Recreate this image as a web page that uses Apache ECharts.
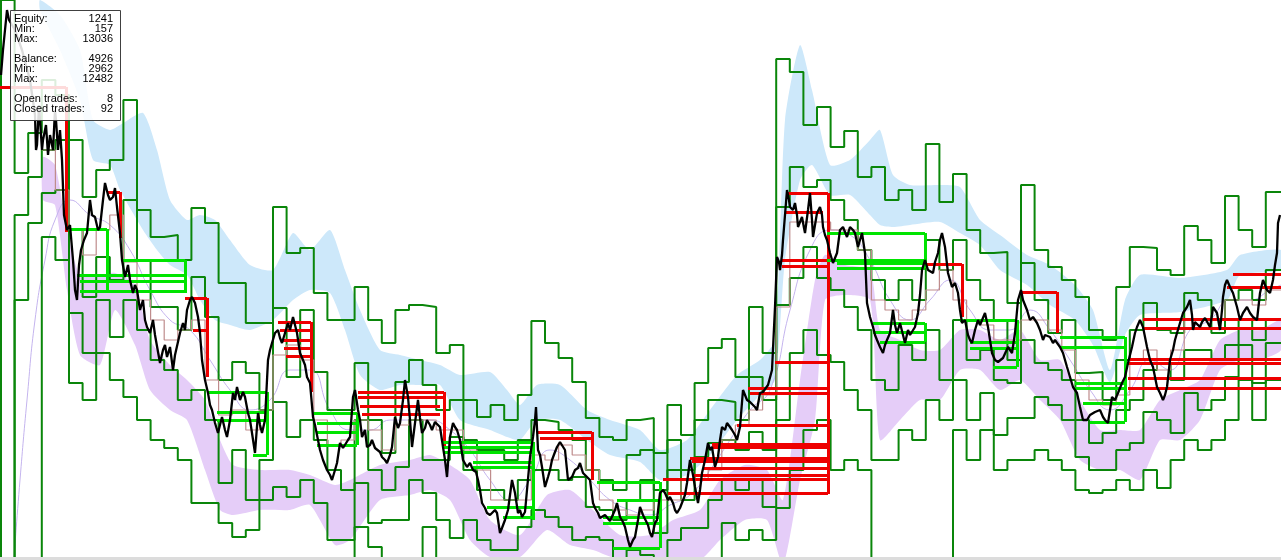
<!DOCTYPE html>
<html><head><meta charset="utf-8">
<script src="https://cdn.jsdelivr.net/npm/echarts@6/dist/echarts.min.js"></script>
<style>html,body{margin:0;padding:0;background:#fff}#c{width:1281px;height:560px}</style>
</head><body><div id="c"></div>
<script>
// ---------- DATA (levels; y grows downward on screen) ----------
const price = [[1,75],[3,50],[5,30],[7,10],[9,20],[15,30],[22,50],[30,80],[35,115],[36,150],[37,145],[39,105],[40,120],[42,150],[43,140],[46,125],[48,155],[50,135],[53,150],[55,110],[56,120],[58,150],[60,130],[62,160],[64,215],[67,230],[70,225],[73,260],[75,290],[77,300],[79,265],[81,250],[84,240],[87,233],[90,200],[92,215],[95,217],[98,230],[100,227],[103,200],[105,183],[108,195],[110,200],[113,197],[115,188],[117,207],[120,233],[122,260],[125,277],[128,265],[130,280],[133,293],[135,285],[137,290],[140,310],[143,300],[145,320],[147,327],[150,333],[153,320],[155,335],[157,333],[160,363],[163,350],[165,345],[167,357],[170,347],[173,370],[175,355],[177,353],[180,333],[183,323],[185,330],[187,310],[190,300],[192,297],[195,303],[198,317],[200,333],[202,360],[205,380],[208,393],[210,405],[212,410],[215,423],[218,433],[220,425],[222,417],[225,430],[227,437],[230,420],[233,393],[235,400],[237,387],[240,400],[243,392],[245,397],[248,413],[250,420],[252,433],[255,453],[258,413],[260,425],[262,433],[265,420],[268,360],[270,350],[272,343],[275,333],[278,330],[280,338],[282,343],[285,333],[288,323],[290,330],[293,317],[295,325],[297,333],[300,353],[303,360],[305,365],[307,377],[310,383],[313,417],[315,425],[318,440],[320,450],[323,460],[325,465],[327,470],[330,475],[332,480],[335,470],[337,463],[340,443],[343,448],[345,450],[348,440],[350,437],[353,397],[355,390],[358,410],[360,420],[362,437],[365,430],[367,447],[370,445],[372,440],[375,448],[377,450],[380,452],[382,457],[385,460],[387,463],[390,455],[392,447],[395,417],[398,428],[400,423],[403,400],[405,380],[408,397],[410,420],[412,447],[415,423],[418,400],[420,418],[422,433],[425,428],[427,420],[430,425],[432,430],[435,422],[437,420],[440,427],[443,447],[445,460],[447,477],[450,437],[453,423],[455,427],[457,430],[460,440],[463,460],[465,462],[467,467],[470,463],[473,470],[476,472],[478,480],[480,490],[482,503],[485,508],[487,513],[490,515],[492,517],[495,510],[497,513],[500,533],[502,528],[505,520],[508,510],[510,495],[512,480],[515,493],[518,513],[520,510],[522,517],[525,512],[527,510],[530,457],[533,437],[535,420],[536,407],[538,450],[540,455],[542,467],[545,487],[548,477],[550,470],[552,460],[555,452],[557,447],[560,442],[562,440],[565,450],[568,480],[570,478],[572,477],[575,470],[578,468],[580,463],[583,473],[585,475],[587,477],[590,480],[593,503],[595,508],[598,513],[600,518],[602,520],[605,515],[607,517],[610,521],[612,523],[615,510],[617,503],[620,517],[623,522],[625,527],[628,540],[630,547],[633,540],[635,537],[638,520],[640,507],[643,515],[645,513],[648,525],[650,533],[652,537],[655,523],[657,520],[660,493],[663,490],[665,493],[668,500],[670,497],[673,503],[675,510],[677,513],[680,508],[682,507],[685,495],[687,483],[690,460],[693,475],[695,487],[698,503],[700,490],[702,473],[705,460],[708,443],[710,450],[712,447],[715,467],[718,457],[720,440],[722,427],[725,430],[727,423],[730,427],[732,430],[735,435],[737,440],[740,427],[743,390],[745,395],[747,400],[750,402],[752,403],[755,407],[757,410],[760,393],[763,392],[765,390],[768,385],[770,387],[772,370],[775,307],[777,257],[779,262],[780,270],[782,255],[783,240],[785,215],[787,190],[789,200],[790,207],[793,210],[795,203],[797,215],[798,227],[800,222],[802,217],[804,228],[805,233],[808,210],[810,193],[812,220],[813,237],[815,225],[817,213],[820,207],[822,215],[823,227],[825,235],[827,240],[830,253],[833,263],[835,258],[837,253],[840,230],[843,227],[845,232],[847,237],[850,227],[853,230],[855,233],[858,247],[860,240],[862,233],[865,253],[867,303],[870,317],[873,327],[875,335],[877,340],[880,347],[883,353],[885,345],[887,340],[890,333],[893,310],[895,325],[897,333],[900,323],[903,335],[905,343],[908,330],[910,335],[912,333],[915,327],[918,313],[920,295],[922,270],[925,260],[928,270],[930,268],[933,273],[935,262],[938,253],[940,240],[942,233],[945,247],[948,273],[950,280],[952,287],[955,283],[958,293],[960,310],[962,323],[965,320],[968,335],[970,340],[972,343],[975,330],[978,320],[980,325],[982,327],[985,313],[988,327],[990,340],[992,353],[995,360],[998,362],[1000,360],[1003,358],[1005,357],[1008,347],[1010,350],[1012,353],[1015,333],[1018,300],[1021,290],[1023,300],[1025,305],[1027,310],[1030,320],[1033,317],[1035,320],[1037,323],[1040,330],[1043,340],[1045,335],[1047,333],[1050,337],[1053,343],[1055,340],[1057,340],[1060,347],[1063,353],[1065,360],[1067,367],[1070,377],[1073,387],[1075,390],[1077,393],[1080,407],[1083,420],[1085,418],[1087,420],[1090,415],[1092,417],[1095,412],[1097,413],[1100,410],[1103,417],[1105,420],[1108,423],[1110,410],[1112,397],[1115,400],[1118,393],[1120,388],[1122,383],[1125,377],[1128,363],[1130,355],[1132,347],[1135,333],[1137,327],[1140,320],[1143,327],[1145,337],[1147,347],[1150,360],[1153,367],[1155,377],[1157,387],[1160,393],[1163,400],[1165,395],[1167,387],[1170,360],[1173,350],[1175,340],[1177,333],[1180,323],[1183,313],[1185,310],[1187,307],[1190,300],[1192,315],[1193,330],[1195,322],[1197,320],[1200,327],[1202,322],[1203,320],[1205,318],[1207,317],[1210,327],[1212,315],[1213,307],[1215,310],[1217,313],[1220,330],[1222,310],[1223,297],[1225,285],[1227,280],[1230,287],[1233,293],[1235,300],[1237,307],[1240,320],[1242,318],[1243,313],[1245,310],[1247,307],[1250,313],[1253,317],[1255,318],[1257,320],[1260,293],[1263,280],[1265,285],[1267,290],[1270,293],[1273,280],[1275,265],[1277,253],[1278,223],[1280,215]];

const maLine = [[14,558],[20,480],[27,400],[35,320],[45,260],[55,220],[70,200],[90,215],[110,225],[130,250],[150,290],[170,320],[190,330],[210,360],[230,390],[250,410],[270,400],[290,370],[310,370],[330,410],[350,430],[370,430],[390,420],[410,420],[430,420],[450,430],[470,450],[490,480],[510,500],[530,480],[550,450],[570,460],[590,480],[610,500],[630,510],[650,515],[670,505],[690,495],[710,470],[730,440],[750,410],[770,390],[790,310],[810,250],[830,230],[850,235],[870,260],[890,300],[910,320],[930,300],[950,280],[970,310],[990,330],[1010,330],[1030,310],[1050,330],[1070,360],[1090,390],[1110,410],[1130,390],[1150,360],[1170,370],[1190,330],[1210,320],[1230,300],[1250,300],[1270,290],[1281,285]];

const blueX   = [40,60,80,93,110,120,143,157,170,187,200,215,230,250,273,293,310,330,345,360,380,400,420,440,460,490,507,520,537,560,587,610,640,660,687,710,737,760,775,785,800,812,830,850,870,880,893,910,940,960,980,1000,1027,1050,1075,1093,1110,1125,1140,1180,1227,1240,1281];
const blueTop = [0,15,50,120,130,125,113,150,200,220,215,220,240,265,270,233,250,230,270,310,350,355,360,365,375,372,390,405,385,385,410,420,430,450,440,410,375,360,340,120,45,90,165,160,140,130,175,185,185,187,220,235,255,265,285,310,370,300,275,278,270,255,250];
const blueBot = [10,50,100,160,165,190,230,250,265,275,300,320,325,330,320,300,290,293,330,375,390,385,385,385,420,430,437,440,420,420,440,455,462,480,475,455,420,395,380,260,180,165,195,195,215,225,227,225,222,233,245,270,285,305,320,345,382,335,315,312,300,275,270];

const purpleX   = [43,55,67,80,100,115,135,150,170,187,205,220,233,260,290,310,335,350,380,410,430,450,470,490,520,547,570,593,620,650,673,700,720,745,767,783,800,815,825,845,870,880,900,920,940,960,980,1000,1020,1040,1060,1080,1100,1120,1140,1160,1180,1200,1220,1240,1260,1281];
const purpleTop = [157,165,230,275,275,273,285,340,365,380,400,440,465,470,470,475,485,480,465,460,455,465,480,520,535,495,490,510,535,535,520,510,480,465,470,500,380,280,255,265,270,330,340,350,350,330,330,340,330,360,360,400,430,430,430,400,390,380,340,330,330,320];
const purpleBot = [200,205,290,355,365,310,345,390,410,420,470,510,515,510,510,505,545,540,500,495,490,500,540,557,557,530,545,550,560,560,560,560,540,520,520,565,480,420,300,295,300,440,420,400,400,370,370,390,380,400,420,460,470,470,480,440,440,420,370,360,360,350];

// channel step lines, one level per bar (top to bottom)
const chanA = [600,0,173,133,80,95,140,197,170,160, 100,210,237,235,260,208,223,283,283,323, 323,207,253,248,293,320,320,287,320,343, 310,305,307,353,345,400,417,405,420,395, 321,343,358,382,418,437,440,420,418,453, 405,435,383,348,339,377,307,353,59,72, 125,107,147,131,177,167,200,190,210,144, 202,174,230,253,252,303,185,250,267,280, 297,330,340,287,247,248,270,275,226,240, 263,196,230,247,192,192];
const chanB = [600,600,215,177,150,140,230,297,257,280, 200,260,307,307,330,277,317,380,362,373, 410,308,377,310,372,410,410,363,420,453, 382,360,385,410,400,440,450,450,460,440, 420,422,430,440,470,480,490,455,450,490, 440,470,420,400,402,420,377,400,207,167, 187,180,200,220,250,280,300,280,300,240, 270,240,280,300,320,360,263,300,333,320, 373,372,400,360,330,303,330,333,293,300, 333,300,290,300,270,270];
const chanC = [600,600,300,223,193,190,313,353,300,337, 300,330,360,370,400,390,420,483,450,500, 460,402,437,420,440,470,490,420,470,490, 467,420,460,460,437,470,490,490,500,480, 470,470,480,477,507,510,520,500,480,533, 470,500,457,443,440,450,432,450,305,278, 247,278,290,307,330,380,390,345,360,330, 380,320,360,350,380,383,340,363,370,380, 420,443,433,410,400,370,363,380,350,350, 360,345,320,340,320,320];
const chanD = [600,600,600,600,237,260,383,400,353,380, 397,420,440,448,460,503,503,523,537,530, 500,487,497,480,503,540,540,483,523,520, 520,480,493,520,538,520,540,550,550,527, 510,517,527,540,537,540,560,550,555,570, 540,528,528,500,480,490,480,507,420,353, 330,355,362,390,410,460,460,430,440,400, 420,380,420,393,435,418,418,397,405,420, 457,470,470,450,443,412,420,433,393,410, 400,377,345,383,343,343];
const chanE = [600,600,600,600,600,600,600,600,600,600, 600,600,600,600,600,600,600,600,600,600, 600,600,600,600,600,600,600,527,547,600, 600,600,527,600,600,600,600,600,600,600, 600,600,600,600,600,600,600,600,600,600, 600,600,600,560,523,540,530,540,508,470, 430,420,470,460,470,600,600,600,600,600, 600,430,460,430,470,460,460,450,460,470, 490,493,490,480,490,470,488,460,440,450, 440,420,380,420,380,380];
const stopLine = ['-','-','-','-',150,190,230,255,230,215, 262,300,320,340,330,320,380,415,410,430, 410,355,345,360,420,445,440,420,430,450, 425,420,420,430,430,450,470,500,500,500, 455,460,445,455,470,500,510,515,510,500, 500,480,480,470,440,425,410,395,307,222, 222,222,230,230,250,300,310,320,310,290, 270,300,320,325,340,340,320,320,330,350, 380,400,405,395,360,350,370,350,320,320, 320,300,300,305,290,290];

// trades: [open time, close time, level]; closes: [time, level a, level b]
const lossTrades = [[0,66,87],[107,120,192],[185,207,298],[193,207,330],[278,311,322],[280,311,330],[282,311,340],[284,311,348],[286,311,356],[358,444,392],[358,444,397],[360,440,406],[362,440,414],[538,592,432],[540,592,438],[788,828,193],[785,823,212],[782,828,260],[782,828,266],[775,828,362],[748,828,388],[750,828,393],[737,828,425],[712,828,444],[712,828,447],[690,828,458],[692,828,461],[703,828,468],[693,828,475],[663,828,479],[668,828,493],[925,962,264],[1020,1057,292],[1233,1281,274],[1227,1281,287],[1143,1281,319],[1143,1281,328],[1130,1281,359],[1128,1281,363],[1128,1281,378],[1128,1281,388]];
const lossCloses = [[66,87,232],[120,192,238],[207,298,377],[311,322,392],[444,392,447],[592,432,480],[828,193,494],[962,264,317],[1057,292,333]];
const winTrades = [[70,107,229],[123,185,260],[77,185,275],[80,185,281],[80,185,291],[207,267,392],[217,267,412],[217,267,420],[253,267,455],[313,357,413],[317,357,423],[317,357,432],[317,357,445],[443,533,442],[443,533,447],[443,533,452],[473,533,462],[473,533,467],[487,533,507],[503,533,517],[597,660,482],[617,660,500],[603,660,517],[603,660,523],[613,660,548],[827,925,233],[827,925,260],[837,925,263],[837,925,268],[873,925,323],[873,925,332],[880,925,342],[960,1017,320],[970,1017,342],[970,1017,348],[993,1017,367],[1060,1125,337],[1060,1125,347],[1075,1125,383],[1075,1125,388],[1083,1125,403],[1090,1125,422]];
const winCloses = [[107,229,291],[185,260,293],[267,392,455],[357,413,445],[533,442,520],[660,482,548],[925,233,268],[925,323,342],[1017,320,367],[1125,337,422]];

const statLabels = ['Equity:','Min:','Max:','Balance:','Min:','Max:','Open trades:','Closed trades:'];
const statValues = ['1241','157','13036','4926','2962','12482','8','92'];
const statRows   = [0,1,2,4,5,6,8,9];

// ---------- CHART ----------
const BAR0 = -12.6, BAR = 13.6;
function barData(vals){ const d = vals.map((v,j)=>[BAR0+BAR*j, v]); d.push([BAR0+BAR*vals.length, vals[vals.length-1]]); return d; }
function bandSeries(xs, top, bot, color){
  return {type:'custom', coordinateSystem:'cartesian2d', silent:true, z:1, data:[[0,0]],
    renderItem:(params, api)=>{
      const pts=[]; for(let i=0;i<xs.length;i++) pts.push(api.coord([xs[i], top[i]]));
      for(let i=xs.length-1;i>=0;i--) pts.push(api.coord([xs[i], bot[i]]));
      return {type:'polygon', shape:{points:pts, smooth:0.2}, style:{fill:color}};
    }};
}
function segs(trades){ return trades.map(t=>({coords:[[t[0],t[2]],[t[1],t[2]]]})); }
function vsegs(cl){ return cl.map(c=>({coords:[[c[0],c[1]],[c[0],c[2]]]})); }
function stepSeries(vals, color, width, z){
  return {type:'line', step:'end', data:barData(vals), showSymbol:false, silent:true, z:z,
    lineStyle:{color:color, width:width}, animation:false};
}

const chart = echarts.init(document.getElementById('c'), null, {renderer:'canvas'});
const graphics = [
  {type:'rect', shape:{x:0,y:557,width:1281,height:3}, style:{fill:'#dcdcdc'}, z:50},
  {type:'rect', shape:{x:10.5,y:10.5,width:110,height:110}, style:{fill:'rgba(255,255,255,0.86)', stroke:'#404040', lineWidth:1}, z:100}
];
statLabels.forEach((l,i)=>{
  const y = 19 + statRows[i]*10;
  graphics.push({type:'text', x:14, y:y, z:101, style:{text:l, fill:'#000', font:'11px "Liberation Sans", Arial, sans-serif', textVerticalAlign:'middle', textAlign:'left'}});
  graphics.push({type:'text', x:113, y:y, z:101, style:{text:statValues[i], fill:'#000', font:'11px "Liberation Sans", Arial, sans-serif', textVerticalAlign:'middle', textAlign:'right'}});
});

chart.setOption({
  animation:false,
  grid:{left:0,right:0,top:0,bottom:0},
  xAxis:{type:'value', min:0, max:1281, show:false},
  yAxis:{type:'value', min:0, max:560, inverse:true, show:false},
  series:[
    bandSeries(blueX, blueTop, blueBot, '#cde8fa'),
    bandSeries(purpleX, purpleTop, purpleBot, '#e5cdf8'),
    {type:'line', data:maLine, showSymbol:false, silent:true, z:2, smooth:true, lineStyle:{color:'#c4b4ee', width:1}},
    stepSeries(chanA, '#0a860a', 2, 3),
    stepSeries(chanB, '#0a860a', 2, 3),
    stepSeries(chanC, '#0a860a', 2, 3),
    stepSeries(chanD, '#0a860a', 2, 3),
    stepSeries(chanE, '#0a860a', 2, 3),
    stepSeries(stopLine, '#bf8c8c', 1.2, 4),
    {type:'lines', coordinateSystem:'cartesian2d', silent:true, z:5, data:segs(lossTrades).concat(vsegs(lossCloses)), lineStyle:{color:'#ee0000', width:3, opacity:1}},
    {type:'lines', coordinateSystem:'cartesian2d', silent:true, z:5, data:segs(winTrades).concat(vsegs(winCloses)), lineStyle:{color:'#00e400', width:3, opacity:1}},
    {type:'line', data:price, showSymbol:false, silent:true, z:6, lineStyle:{color:'#000', width:2.3}}
  ],
  graphic:graphics
});
</script></body></html>
